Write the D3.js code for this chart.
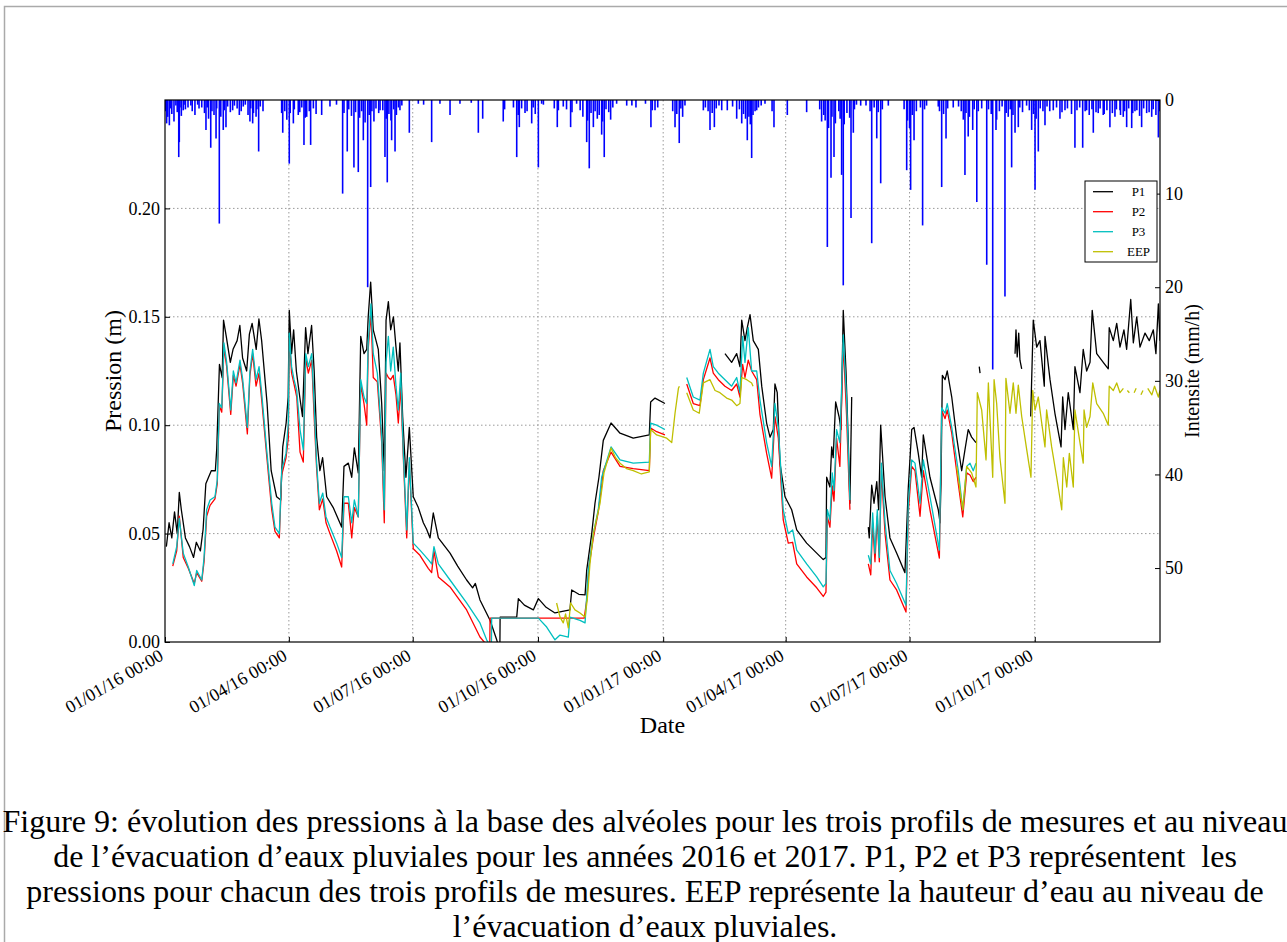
<!DOCTYPE html>
<html>
<head>
<meta charset="utf-8">
<script src="https://cdn.jsdelivr.net/npm/d3@7"></script>
<style>
  body { margin: 0; background: #fff; }
  svg { display: block; }
  text { font-family: "Liberation Serif", "Times New Roman", serif; fill: #000; }
</style>
</head>
<body>
<script>
// jour = nombre de jours depuis le 01/01/2016, valeur = pression (m); null = trou dans la mesure
var p1 = [[1,0.044],[3,0.055],[5,0.048],[7,0.060],[9,0.050],[10.5,0.069],[12,0.061],[15,0.048],[18,0.044],[21,0.039],[23,0.046],[26,0.042],[28,0.052],[30,0.073],[34,0.079],[37,0.079],[38,0.089],[40,0.128],[42,0.122],[43,0.1485],[45,0.141],[48,0.129],[50,0.135],[53,0.139],[55,0.146],[57,0.131],[60,0.125],[62,0.142],[64,0.147],[67,0.135],[69,0.149],[71,0.139],[75,0.110],[78,0.079],[82,0.067],[85,0.0655],[86.5,0.090],[89,0.101],[90.5,0.113],[91.3,0.153],[93,0.133],[94.5,0.144],[96.5,0.125],[99,0.113],[101,0.104],[103.3,0.145],[105,0.133],[107.7,0.146],[109.6,0.125],[111.4,0.0945],[113.8,0.079],[115.8,0.085],[118.8,0.067],[123.6,0.062],[129.8,0.053],[131.5,0.081],[134.7,0.0825],[137.2,0.076],[139.1,0.0895],[142,0.078],[143.8,0.141],[146.2,0.133],[148.2,0.135],[149.3,0.150],[151.1,0.166],[153,0.144],[156.7,0.135],[159.2,0.110],[161.1,0.079],[162.4,0.1485],[164.1,0.157],[165.8,0.144],[167.8,0.150],[169.7,0.136],[171.4,0.125],[172.6,0.138],[174.6,0.104],[177,0.076],[179.5,0.099],[182.4,0.067],[186.1,0.062],[189.8,0.055],[192.2,0.052],[194.7,0.048],[197.1,0.0595],[200.8,0.048],[209.4,0.041],[215,0.035],[221.6,0.0286],[226,0.025],[228,0.027],[231.4,0.0194],[238.8,0.010],[243.7,0.001],[246,-0.004],[246.2,0.0115],[258.4,0.0115],[259.6,0.020],[264,0.017],[270.6,0.0148],[274.3,0.020],[280,0.016],[286.5,0.0134],[297.5,0.0148],[298.8,0.024],[304,0.022],[308.6,0.0217],[309.8,0.033],[313.5,0.050],[315.9,0.064],[318.8,0.076],[322,0.093],[327.7,0.101],[334.3,0.0963],[344,0.094],[355.8,0.0955],[356.8,0.1107],[360,0.1125],[367.3,0.110],[368,null],
  [411.4,0.133],[416.3,0.129],[420,0.133],[422.4,0.127],[423.7,0.1485],[426.1,0.139],[427.8,0.145],[429.8,0.151],[432.2,0.139],[435.9,0.135],[438.4,0.118],[442,0.101],[444.5,0.0945],[446.9,0.098],[448.1,0.119],[449.8,0.115],[451.8,0.0825],[455.5,0.067],[460.4,0.061],[464.1,0.0517],[471.4,0.0456],[478.8,0.041],[483.6,0.038],[485.6,0.039],[486.1,0.076],[488.5,0.0715],[489.8,0.090],[490.9,0.085],[492.7,0.1107],[495.2,0.104],[496.6,0.098],[498.3,0.153],[500.3,0.125],[502,0.092],[503.2,0.064],[504.5,0.113],[505,null],
  [516.7,0.053],[517.4,0.048],[519.2,0.0724],[520.9,0.064],[522.9,0.074],[524.3,0.061],[525.8,0.100],[529,0.067],[532.6,0.048],[537.5,0.041],[543.6,0.032],[546.1,0.0715],[548.6,0.098],[550.3,0.099],[553.4,0.087],[555.9,0.076],[557.1,0.0955],[562,0.076],[568.1,0.061],[569.4,0.055],[570.1,0.073],[571.1,0.123],[573.1,0.121],[574.7,0.125],[578,0.113],[581.6,0.0945],[585.3,0.079],[587.7,0.0886],[590.1,0.098],[592.6,0.0945],[595.8,0.092],[596,null],
  [598.2,0.127],[598.8,0.124],[599,null],
  [624.5,0.133],[625.2,0.144],[626.1,0.1315],[627.2,0.1425],[628.1,0.130],[629.4,0.126],[630,null],
  [636,0.104],[637.9,0.1485],[640.4,0.136],[642.8,0.139],[646,0.118],[646.5,0.141],[650.2,0.121],[653.8,0.1055],[658.3,0.090],[659.5,0.113],[661.2,0.098],[663.6,0.115],[667.3,0.098],[668.5,0.127],[672.2,0.115],[674.6,0.135],[677.1,0.125],[679.6,0.129],[681.2,0.153],[684.5,0.133],[689.3,0.129],[693,0.126],[693.7,0.145],[696.7,0.139],[699.2,0.147],[701.6,0.136],[704.5,0.144],[706.5,0.135],[709.5,0.158],[711.4,0.138],[713.9,0.150],[716.3,0.136],[720,0.1425],[723.1,0.139],[726.1,0.144],[728,0.133],[729.8,0.156],[731,0.139]];

var p2 = [[5.7,0.035],[8.6,0.042],[10.5,0.058],[13.4,0.039],[17.1,0.034],[21.5,0.027],[23.3,0.032],[27,0.028],[28.7,0.037],[30.6,0.058],[33.1,0.063],[36.7,0.066],[38.4,0.073],[39.9,0.109],[41.7,0.106],[43.3,0.136],[45.3,0.127],[48.3,0.105],[50.2,0.123],[52.2,0.118],[55.1,0.128],[57.1,0.119],[60.5,0.096],[62.4,0.123],[64.4,0.133],[66.9,0.118],[69.1,0.124],[71,0.112],[74.7,0.086],[78.4,0.061],[80.8,0.051],[84,0.048],[85.7,0.077],[88.9,0.085],[90.6,0.094],[91.3,0.140],[93,0.124],[94.8,0.119],[96.8,0.113],[99.2,0.0876],[101.6,0.083],[103.4,0.131],[105.3,0.124],[107.8,0.130],[109.5,0.105],[111.4,0.080],[113.4,0.061],[115.9,0.066],[118.3,0.055],[121.2,0.050],[126.1,0.042],[129.8,0.0346],[131.5,0.064],[134.7,0.064],[137.2,0.048],[139.1,0.062],[142,0.0577],[143.8,0.119],[146.2,0.110],[148.2,0.100],[149.3,0.135],[151.3,0.152],[153,0.122],[156,0.120],[159.2,0.092],[161.1,0.055],[162.4,0.124],[164.1,0.122],[165.8,0.121],[167.7,0.123],[169.7,0.114],[171.4,0.101],[173.2,0.118],[175.1,0.085],[177.6,0.048],[179.5,0.083],[182.4,0.043],[187.3,0.040],[193.4,0.034],[195.9,0.032],[197.6,0.042],[200.8,0.030],[209.4,0.0254],[221.6,0.0148],[231.4,0.0023],[238.6,-0.003],[238.8,0.011],[308,0.011],[310,0.020],[311.5,0.035],[314.7,0.048],[318.3,0.060],[320.8,0.072],[322,0.079],[327.7,0.0876],[334.3,0.081],[344,0.080],[355.8,0.079],[356.8,0.0987],[361.2,0.097],[367.3,0.0955],[368,null],
  [383.3,0.119],[388.1,0.110],[393,0.109],[395.5,0.121],[400.4,0.131],[402.8,0.124],[406.5,0.121],[411.4,0.118],[416.3,0.116],[420,0.119],[422.4,0.113],[424.4,0.128],[426.1,0.122],[428.5,0.130],[431,0.125],[434.7,0.121],[437.1,0.105],[442,0.087],[445.7,0.0756],[448.1,0.104],[450.6,0.094],[454.2,0.0563],[457.9,0.0456],[461.1,0.046],[464.1,0.036],[471.4,0.030],[478.8,0.025],[483.6,0.021],[485.6,0.023],[486.6,0.0577],[488.5,0.053],[490.2,0.072],[491.5,0.065],[493.4,0.094],[495.8,0.081],[498.3,0.138],[500.7,0.105],[503.2,0.061],[504,null],
  [516.7,0.036],[518.5,0.031],[519.9,0.055],[521.6,0.037],[523.3,0.058],[524.8,0.037],[526.3,0.079],[529,0.050],[532.6,0.0286],[537.5,0.024],[544.4,0.0138],[546.1,0.060],[548.6,0.081],[551,0.079],[554.7,0.058],[557.1,0.079],[562,0.061],[568.9,0.0387],[570.6,0.107],[573.1,0.103],[574.7,0.107],[578,0.0963],[582.8,0.073],[586.1,0.0577],[589,0.078],[591.4,0.077],[593.8,0.074],[595.8,0.076]];

var p3 = [[5.7,0.036],[8.6,0.044],[10.5,0.057],[13.4,0.041],[17.1,0.0346],[21.5,0.026],[23.3,0.033],[27,0.0286],[28.7,0.039],[30.6,0.061],[33.1,0.0655],[36.7,0.067],[38.4,0.0747],[39.9,0.110],[41.7,0.108],[43.3,0.138],[45.3,0.129],[48.3,0.107],[50.2,0.125],[52.2,0.1195],[55.1,0.130],[57.1,0.121],[60.5,0.099],[62.4,0.125],[64.4,0.135],[66.9,0.121],[69.1,0.127],[71,0.115],[74.7,0.0886],[78.4,0.064],[80.8,0.053],[84,0.050],[85.7,0.079],[88.9,0.087],[90.6,0.101],[91.3,0.1425],[93,0.127],[94.8,0.121],[96.8,0.116],[99.2,0.098],[101.6,0.0886],[103.4,0.133],[105.3,0.127],[107.8,0.133],[109.5,0.110],[111.4,0.0825],[113.4,0.064],[115.9,0.0687],[118.3,0.0577],[121.2,0.053],[126.1,0.0456],[129.8,0.039],[131.5,0.067],[134.7,0.067],[137.2,0.055],[139.1,0.0655],[142,0.0577],[143.8,0.121],[146.2,0.113],[148.2,0.110],[149.3,0.138],[151.3,0.156],[153,0.133],[156,0.124],[159.2,0.0945],[161.1,0.061],[162.4,0.129],[164.1,0.141],[165.8,0.125],[167.7,0.136],[169.7,0.118],[171.4,0.107],[173.2,0.124],[175.1,0.087],[177.6,0.0517],[179.5,0.085],[182.4,0.0456],[187.3,0.0424],[193.4,0.038],[195.9,0.036],[197.6,0.044],[200.8,0.036],[209.4,0.0286],[221.6,0.018],[231.4,0.0088],[236.3,0.001],[239.8,-0.003],[240,0.011],[274.3,0.011],[280.4,0.0069],[286.5,0.001],[290.2,0.0032],[296.3,0.0023],[297.5,0.0115],[304.9,0.010],[308.6,0.0088],[311,0.033],[314.7,0.050],[318.3,0.061],[320.8,0.076],[327.7,0.090],[334.3,0.084],[344,0.0825],[355.8,0.083],[356.8,0.101],[361.2,0.100],[367.3,0.098],[368,null],
  [383.3,0.122],[388.1,0.113],[393,0.1116],[395.5,0.124],[400.4,0.135],[402.8,0.127],[406.5,0.124],[411.4,0.121],[416.3,0.118],[420,0.122],[422.4,0.115],[424.4,0.141],[426.1,0.129],[428.5,0.145],[431,0.125],[434.7,0.125],[437.1,0.1116],[442,0.092],[445.7,0.081],[448.1,0.110],[450.6,0.099],[454.2,0.061],[457.9,0.050],[461.1,0.0517],[464.1,0.0424],[471.4,0.036],[478.8,0.030],[483.6,0.0254],[485.6,0.027],[486.6,0.061],[488.5,0.0563],[490.2,0.078],[491.5,0.070],[493.4,0.098],[495.8,0.092],[498.3,0.1416],[500.7,0.113],[503.2,0.0655],[504,null],
  [516.7,0.040],[518.5,0.036],[519.9,0.0595],[521.6,0.041],[523.3,0.061],[524.8,0.039],[526.3,0.0825],[529,0.055],[532.6,0.033],[537.5,0.027],[544.4,0.017],[546.1,0.064],[548.6,0.084],[551,0.0825],[554.7,0.064],[557.1,0.084],[562,0.067],[568.9,0.0424],[570.6,0.108],[573.1,0.1055],[574.7,0.110],[578,0.099],[582.8,0.079],[586.1,0.061],[589,0.081],[591.4,0.0825],[593.8,0.079],[595.8,0.0825]];

var eep = [[287.7,0.018],[290.2,0.0115],[292.6,0.0088],[294.3,0.013],[296.3,0.0065],[298,0.018],[301.2,0.0148],[304.9,0.0134],[308.6,0.0115],[310.2,0.0194],[312.2,0.036],[314.7,0.050],[319.6,0.064],[322.5,0.078],[327.7,0.0895],[331,0.085],[334.3,0.0825],[339,0.080],[344,0.079],[350,0.0775],[355.8,0.0785],[356.8,0.098],[361.2,0.0955],[368.6,0.094],[372.3,0.092],[374.7,0.1055],[377.2,0.117],[377.9,0.118],[378.5,null],
  [383.3,0.115],[388.1,0.107],[392.5,0.1055],[395.5,0.1195],[400.4,0.121],[404.1,0.116],[407.7,0.115],[412.6,0.1125],[416.3,0.1116],[420,0.109],[422.4,0.110],[423.7,0.122],[427.4,0.121],[431,0.1195],[432,0.118],[433,null],
  [581.6,0.081],[586.1,0.061],[589,0.081],[592.6,0.078],[595.8,0.0715],[596.8,0.115],[600,0.107],[603.2,0.084],[604.9,0.1195],[608.1,0.076],[609.1,0.121],[611,0.110],[613.4,0.085],[617.1,0.064],[617.8,0.1216],[620.8,0.1055],[623.2,0.1195],[625.2,0.1055],[626.9,0.1185],[629.4,0.104],[633.1,0.0886],[636.2,0.076],[637.5,0.116],[639.2,0.107],[641.6,0.113],[644.1,0.101],[646.5,0.090],[647.7,0.107],[651.4,0.090],[655.1,0.076],[658.8,0.061],[660,0.085],[662.5,0.0715],[664.4,0.087],[667.3,0.0715],[668.5,0.107],[672.2,0.092],[674.6,0.0825],[675.2,0.107],[677.1,0.099],[679.6,0.104],[681.6,0.1195],[684.5,0.110],[689.3,0.1055],[693,0.100],[693.7,0.118],[696.7,0.116],[699.2,0.1195],[701.6,0.115],[704.1,0.117],[705,null],[707,0.116],[708.5,0.115],[709,null],[712,0.115],[713.5,0.117],[714,null],[717,0.114],[718.5,0.116],[719,null],[722,0.117],[725,0.114],[727,0.118],[729.8,0.113],[731,0.116]];

// pluie : [jour, intensite (mm/h)]
var pluie = [[0.5,1.2],[1.2,2.5],[2,1.8],[3.2,2.7],[4,0.9],[5,1.5],[6.6,2.3],[8,0.6],[9,1.3],[10.1,6.1],[10.5,4.5],[11,0.8],[12,1.7],[13.4,1.1],[14,0.5],[15,1.0],[16.9,0.8],[19,0.6],[20,1.2],[22,1.6],[24,0.5],[25,0.9],[27,0.8],[29,1.4],[30.1,3.2],[31,0.8],[32,2.0],[33.6,5.1],[34.5,1.2],[36,1.6],[37.5,4.1],[38,0.9],[39.9,13.2],[41,1.8],[42.8,3.2],[43.5,1.1],[44.8,2.9],[46,0.7],[48,1.3],[49.7,1.1],[51,0.6],[53,0.9],[54.6,1.6],[56,1.2],[57.5,0.7],[59,0.5],[61,1.6],[62.4,2.3],[63,0.9],[64.4,2.5],[65,1.4],[66.9,1.8],[67.5,1.0],[68.8,5.5],[70,0.7],[72,1.2],
  [85.7,1.4],[86.5,3.5],[88,1.2],[89.5,2.1],[91.3,6.8],[92,1.4],[94.3,2.5],[95,1.0],[97.9,1.6],[99,1.3],[100.5,0.8],[102.1,4.8],[103,1.9],[104.1,1.8],[106,1.2],[107,4.8],[109,0.9],[111,1.5],[115.1,1.6],[121.2,0.7],[126,0.5],[130.5,10.0],[131.5,1.4],[133.9,5.5],[135,1.0],[137,1.7],[138.8,7.2],[140,1.3],[142,7.7],[143,1.9],[144.5,1.2],[145.7,4.3],[147,2.4],[148.9,20.0],[150,1.6],[151.1,9.3],[152,1.2],[153.5,2.3],[155,0.9],[157,1.4],[158,1.1],[160,1.1],[161.6,6.1],[162.5,2.0],[163.3,8.8],[164.5,1.5],[166,2.2],[166.5,4.3],[168,1.0],[169,5.5],[170,1.6],[171.5,0.8],[172.6,1.1],[174,0.6],[179.5,3.5],[186.1,0.4],[190,0.5],[195.9,4.5],[202,0.4],[209.4,1.6],[216.7,0.4],[225,0.3],[230.2,3.5],[233.4,2.0],
  [248.5,2.3],[249.5,1.0],[256,0.8],[258.4,6.1],[259.5,1.6],[260.3,2.9],[262,0.9],[264.5,1.4],[266,1.2],[269.4,2.5],[270.5,0.8],[272,1.5],[274.3,7.2],[276.7,0.4],[278,0.5],[286,0.9],[288.2,2.9],[289,1.1],[292.6,0.7],[295,1.0],[298,2.9],[299,1.3],[302.4,0.4],[305,1.1],[307,1.8],[309.8,4.5],[310.5,2.2],[311.7,7.3],[313,1.4],[314.7,2.9],[316,1.2],[317.6,2.0],[319,1.6],[320.8,3.7],[321.5,2.3],[322.7,6.1],[324,1.0],[326,1.3],[327.4,2.1],[329,0.8],[331.8,0.4],[339.2,0.6],[343,0.6],[346,0.8],[353,0.4],[357,2.9],[358,1.1],[360,1.1],[362,0.8],
  [373,1.2],[374.7,2.9],[376,1.5],[377.8,4.6],[379,0.9],[380.3,1.8],[382,0.6],[395.5,1.1],[397,0.8],[399,1.2],[400.4,3.2],[402,1.4],[403.6,2.9],[405,0.9],[407,0.6],[409,1.1],[413.1,1.1],[417,0.7],[420,2.0],[422,1.0],[423.7,2.5],[425,1.5],[426.5,2.0],[427.8,4.3],[429,1.8],[430,2.6],[431,6.2],[432,1.6],[433.5,1.2],[434.7,1.1],[436,0.8],[438,0.6],[440.8,0.4],[446,1.2],[447.4,2.9],[457.2,1.6],[471.4,1.3],
  [481,1.0],[482.4,2.3],[484,1.6],[485,2.2],[486.6,15.7],[487.5,3.0],[489.3,8.3],[490,1.8],[491.5,6.1],[492.5,2.5],[495,1.2],[496,2.0],[497.1,8.0],[498.3,19.8],[499,2.6],[501,1.4],[503,1.9],[504,12.6],[505.7,3.5],[506.5,1.0],[508,0.5],[511.1,0.6],[515,0.6],[518,1.2],[519.2,15.3],[521,0.8],[522.9,4.1],[524,1.3],[525.8,8.9],[527,1.0],[531.4,0.6],[543,1.0],[544.9,7.5],[545.5,2.2],[547,3.0],[547.8,9.6],[549,1.6],[550.3,4.3],[552,1.2],[555,0.8],[556.6,13.4],[558,1.0],[559.5,0.6],
  [568.1,0.7],[569,1.2],[570.6,9.3],[572,1.5],[573.8,4.1],[575,0.9],[579.1,0.8],[583,0.7],[585,1.2],[586.5,2.1],[587.7,8.0],[588.5,1.4],[590.1,3.9],[591,1.8],[593.4,3.2],[594.5,1.0],[596.4,10.9],[597.5,1.2],[600,0.9],[603.7,17.6],[605,1.0],[607,1.5],[608.1,28.8],[610.5,3.2],[611,2.1],[613,1.2],[615,0.7],[617.1,21.0],[618,1.4],[619.5,1.8],[621,1.0],[622,7.2],[623,1.6],[624.5,3.5],[626.9,2.9],[628,0.8],[630,1.3],[633,0.6],[635,1.1],[636.7,3.2],[638,1.5],[639.2,9.6],[640,2.0],[641.6,5.5],[643,0.9],[645,1.2],[646.5,2.7],[648,0.7],[650,1.2],[652.6,1.1],[655,0.8],[657.5,2.0],[659,1.3],[661.2,1.1],[663,0.9],[666,1.5],[668.5,5.1],[670,1.1],[672,0.8],[674.2,5.1],[676,1.2],[677.1,1.1],[679,1.6],[681,1.0],[682,3.5],[684,1.3],[685.6,1.4],[687,0.9],[689.3,1.6],[690,1.5],[692,1.1],[694.2,2.9],[696,1.4],[697.9,1.8],[699,1.0],[701.6,1.1],[702,1.6],[704,1.8],[705,1.2],[706.5,2.9],[708,0.9],[710.2,3.0],[711,1.4],[712.6,1.2],[714,1.1],[716,1.7],[717.5,2.9],[719,0.9],[721.2,1.4],[723,1.3],[724.9,1.8],[726,1.0],[728,1.6],[729.8,4.0],[730.5,1.2]];

var dateTicks = ["2016-01-01","2016-04-01","2016-07-01","2016-10-01","2017-01-01","2017-04-01","2017-07-01","2017-10-01"];
var pressionTicks = [0, 0.05, 0.10, 0.15, 0.20];
var intensiteTicks = [0, 10, 20, 30, 40, 50];
var series = [
  {name: "P1", data: p1, color: "#000000"},
  {name: "P2", data: p2, color: "#ff0000"},
  {name: "P3", data: p3, color: "#00bfbf"},
  {name: "EEP", data: eep, color: "#bfbf00"}
];
var captionLines = [
  "Figure 9: évolution des pressions à la base des alvéoles pour les trois profils de mesures et au niveau",
  "de l’évacuation d’eaux pluviales pour les années 2016 et 2017. P1, P2 et P3 représentent  les",
  "pressions pour chacun des trois profils de mesures. EEP représente la hauteur d’eau au niveau de",
  "l’évacuation d’eaux pluviales."
];

var W = 1287, H = 942;
var plot = {left: 165, right: 1160, top: 100, bottom: 642};
var serif = "'Liberation Serif', 'Times New Roman', serif";
var t0 = new Date(2016, 0, 1);
function jourToDate(j) { return new Date(t0.getTime() + j * 864e5); }
var parseDay = d3.timeParse("%Y-%m-%d");

var x = d3.scaleTime().domain([t0, new Date(2018, 0, 1)]).range([plot.left, plot.right]);
var y = d3.scaleLinear().domain([0, 0.25]).range([plot.bottom, plot.top]);
var yR = d3.scaleLinear().domain([0, 57.9]).range([plot.top, plot.bottom]);

var svg = d3.select("body").append("svg")
    .attr("width", W)
    .attr("height", H);

// cadre gris de la figure
svg.append("path")
    .attr("d", "M4.5," + H + "V6.5H" + W)
    .attr("fill", "none")
    .attr("stroke", "#aaaaaa")
    .attr("stroke-width", 1.5);

svg.append("clipPath").attr("id", "clip")
  .append("rect")
    .attr("x", plot.left).attr("y", plot.top)
    .attr("width", plot.right - plot.left)
    .attr("height", plot.bottom - plot.top);

// grille pointillee
var grid = svg.append("g").attr("stroke", "#9a9a9a").attr("stroke-width", 1).attr("stroke-dasharray", "1.5,2.5");
grid.selectAll(".gx").data(dateTicks.slice(1)).enter().append("line")
    .attr("x1", function(d) { return x(parseDay(d)); })
    .attr("x2", function(d) { return x(parseDay(d)); })
    .attr("y1", plot.top).attr("y2", plot.bottom);
grid.selectAll(".gy").data(pressionTicks.slice(1)).enter().append("line")
    .attr("x1", plot.left).attr("x2", plot.right)
    .attr("y1", function(d) { return y(d); })
    .attr("y2", function(d) { return y(d); });

// courbes de pression
var line = d3.line()
    .defined(function(d) { return d[1] !== null; })
    .x(function(d) { return x(jourToDate(d[0])); })
    .y(function(d) { return y(d[1]); });

var lines = svg.append("g").attr("clip-path", "url(#clip)");
series.forEach(function(s) {
  lines.append("path")
      .attr("d", line(s.data))
      .attr("fill", "none")
      .attr("stroke", s.color)
      .attr("stroke-width", 1.3)
      .attr("stroke-linejoin", "round");
});

// pluie (axe de droite, inverse)
svg.append("g").attr("clip-path", "url(#clip)")
  .selectAll("line").data(pluie).enter().append("line")
    .attr("x1", function(d) { return x(jourToDate(d[0])); })
    .attr("x2", function(d) { return x(jourToDate(d[0])); })
    .attr("y1", yR(0))
    .attr("y2", function(d) { return yR(d[1]); })
    .attr("stroke", "#0000ff")
    .attr("stroke-width", 1.6);

// axes
var xAxis = svg.append("g")
    .attr("transform", "translate(0," + plot.bottom + ")")
    .call(d3.axisBottom(x).tickValues(dateTicks.map(parseDay)).tickFormat(d3.timeFormat("%d/%m/%y %H:%M")).tickSize(-5));
xAxis.selectAll("text")
    .attr("x", 0).attr("y", 0).attr("dy", 0)
    .attr("transform", "translate(-1,17) rotate(-30)")
    .style("text-anchor", "end");

var yAxis = svg.append("g")
    .attr("transform", "translate(" + plot.left + ",0)")
    .call(d3.axisLeft(y).tickValues(pressionTicks).tickFormat(d3.format(".2f")).tickSize(-5));
yAxis.selectAll("text").attr("x", -5);

var yAxisR = svg.append("g")
    .attr("transform", "translate(" + plot.right + ",0)")
    .call(d3.axisRight(yR).tickValues(intensiteTicks).tickFormat(d3.format("d")).tickSize(-5));
yAxisR.selectAll("text").attr("x", 5);

svg.selectAll(".domain").remove();
svg.selectAll(".tick line").attr("stroke", "#000").attr("stroke-width", 1);
svg.selectAll(".tick text")
    .style("font-family", serif)
    .style("font-size", "18px")
    .style("fill", "#000");

// cadre du graphique
svg.append("rect")
    .attr("x", plot.left).attr("y", plot.top)
    .attr("width", plot.right - plot.left)
    .attr("height", plot.bottom - plot.top)
    .attr("fill", "none")
    .attr("stroke", "#000")
    .attr("stroke-width", 1.2);

// titres des axes
svg.append("text")
    .attr("transform", "translate(121," + (plot.top + plot.bottom) / 2 + ") rotate(-90)")
    .attr("text-anchor", "middle")
    .style("font-size", "24px")
    .text("Pression (m)");
svg.append("text")
    .attr("transform", "translate(1199," + (plot.top + plot.bottom) / 2 + ") rotate(-90)")
    .attr("text-anchor", "middle")
    .style("font-size", "20px")
    .text("Intensite (mm/h)");
svg.append("text")
    .attr("x", (plot.left + plot.right) / 2)
    .attr("y", 733)
    .attr("text-anchor", "middle")
    .style("font-size", "24px")
    .text("Date");

// legende
var legend = svg.append("g").attr("transform", "translate(1085,181)");
legend.append("rect")
    .attr("width", 72).attr("height", 81)
    .attr("fill", "#fff").attr("stroke", "#000").attr("stroke-width", 1);
var item = legend.selectAll(".item").data(series).enter().append("g")
    .attr("transform", function(d, i) { return "translate(0," + (10.7 + i * 20) + ")"; });
item.append("line")
    .attr("x1", 8).attr("x2", 28)
    .attr("stroke", function(d) { return d.color; })
    .attr("stroke-width", 1.3);
item.append("text")
    .attr("x", 53.5).attr("y", 4.5)
    .attr("text-anchor", "middle")
    .style("font-size", "13px")
    .text(function(d) { return d.name; });

// legende de la figure
svg.append("g").selectAll("text").data(captionLines).enter().append("text")
    .attr("x", 645)
    .attr("y", function(d, i) { return 832 + i * 35; })
    .attr("text-anchor", "middle")
    .style("font-size", "32px")
    .style("white-space", "pre")
    .text(function(d) { return d; });
</script>
</body>
</html>
